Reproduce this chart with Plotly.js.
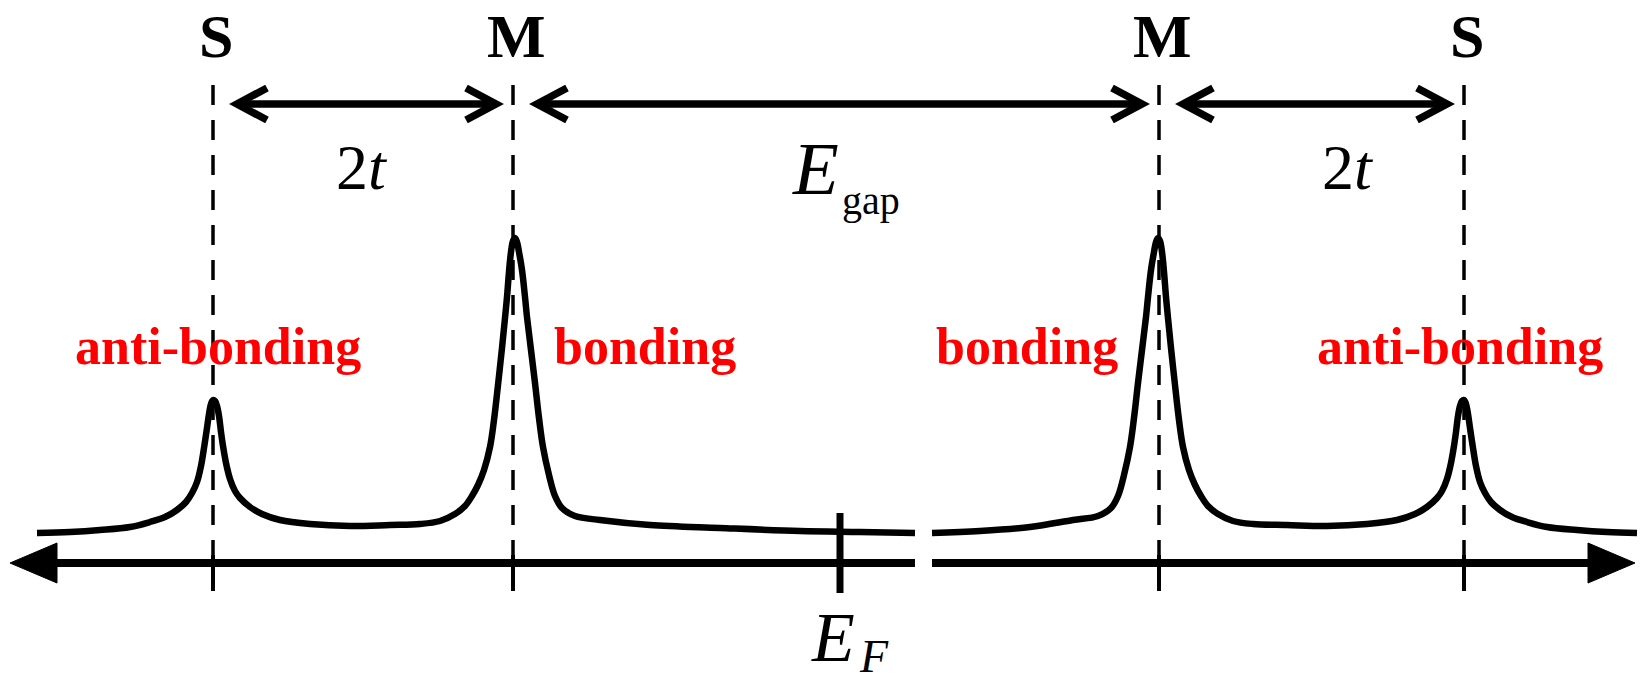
<!DOCTYPE html>
<html>
<head>
<meta charset="utf-8">
<script src="https://cdn.plot.ly/plotly-3.0.1.min.js"></script>
<style>
  html, body { margin: 0; padding: 0; background: #ffffff; }
  #chart { width: 1643px; height: 683px; }
</style>
</head>
<body>
<div id="chart"></div>
<script>
// Density of states of a two-site (S–M) system: bonding / anti-bonding peaks
// on either side of the Fermi level. Energy runs along x, intensity along y.

// Level positions along the energy axis
const levelNames  = ['S', 'M', 'M', 'S'];
const levelEnergy = [213, 513, 1159, 1464];
const fermiEnergy = 840;

// Band labels under the peaks
const bandNames  = ['anti-bonding', 'bonding', 'bonding', 'anti-bonding'];
const bandLabelE = [218, 645, 1027, 1460];

// Spacing labels between the levels
const splitLabelE = [362, 1348];
const gapLabelE   = 815;

// Energy axis extent and the break in it
const axisStart = 10;
const axisEnd   = 1635;
const axisBreak = [915, 932];

// DOS curve, below the break
const dosLowE = [37, 70, 100, 130, 150, 165, 177, 186, 192, 197, 201, 204, 207, 209, 211, 213,
  215, 217, 219, 221, 223, 226, 230, 235, 240, 250, 262, 280, 310, 350, 390, 420, 440, 455, 465,
  472, 478, 484, 490, 494, 498, 502, 505, 507, 509, 511, 513, 515, 517, 519, 522, 525, 527, 531,
  535, 539, 543, 549, 555, 562, 575, 600, 650, 720, 800, 860, 915];
const dosLowI = [30, 31, 33, 36, 41, 46, 53, 61, 70, 81, 97, 115, 135, 149, 159, 163,
  162, 157, 147, 131, 117, 100, 84, 72, 65, 56, 49, 43, 39, 37, 38, 39, 42, 49, 57,
  67, 78, 93, 116, 143, 178, 215, 245, 266, 291, 311, 322, 325, 321, 311, 293, 266, 246, 213,
  180, 145, 116, 88, 67, 55, 47, 43, 38, 35, 32, 31, 30];

// DOS curve, above the break
const dosHighE = [932, 980, 1030, 1073, 1098, 1111, 1118, 1124, 1130, 1134, 1138, 1142,
  1146, 1148, 1151, 1154, 1156, 1158, 1160, 1162, 1164, 1166, 1168, 1171, 1175, 1179, 1183,
  1189, 1195, 1201, 1208, 1218, 1233, 1253, 1287, 1327, 1367, 1397, 1415, 1427, 1437, 1442,
  1447, 1451, 1454, 1456, 1458, 1460, 1462, 1464, 1466, 1468, 1470, 1473, 1476, 1480, 1485,
  1491, 1500, 1512, 1527, 1547, 1577, 1607, 1637];
const dosHighI = [30, 32, 36, 43, 47, 55, 67, 88, 116, 145, 180, 213,
  246, 266, 293, 311, 321, 325, 322, 311, 291, 266, 245, 215, 178, 143, 116,
  93, 78, 67, 57, 49, 42, 39, 38, 37, 39, 43, 49, 56, 65, 72,
  84, 100, 117, 131, 147, 157, 162, 163, 159, 149, 135, 115, 97, 81, 70,
  61, 53, 46, 41, 36, 33, 31, 30];

// Drawing styles
const INK = '#000000';
const RED = '#ff0000';
const SERIF = 'Liberation Serif, Times New Roman, serif';
const arrowY = 459;        // height of the spacing arrows
const dashTop = 478;       // top of the level guides
const tickLow = -28;       // bottom of the level ticks
const padFrom = 24, padTo = 17;   // gap between arrow tips and their guides
const chevronLen = 30, chevronHalf = 16;
const arrowWidth = 7.5;

const traces = [
  { x: dosLowE, y: dosLowI, mode: 'lines', hoverinfo: 'skip',
    line: { color: INK, width: 6.5, shape: 'spline', smoothing: 1 } },
  { x: dosHighE, y: dosHighI, mode: 'lines', hoverinfo: 'skip',
    line: { color: INK, width: 6.5, shape: 'spline', smoothing: 1 } }
];

const shapes = [];

// Energy axis in two pieces around the break
shapes.push({ type: 'line', xref: 'x', yref: 'y', x0: axisStart + 10, x1: axisBreak[0], y0: 0, y1: 0,
  line: { color: INK, width: 8 } });
shapes.push({ type: 'line', xref: 'x', yref: 'y', x0: axisBreak[1], x1: axisEnd - 10, y0: 0, y1: 0,
  line: { color: INK, width: 8 } });

// Filled arrowheads at both ends of the axis
shapes.push({ type: 'path', xref: 'x', yref: 'y',
  path: `M ${axisStart},0 L ${axisStart + 47},20 L ${axisStart + 47},-20 Z`,
  fillcolor: INK, line: { color: INK, width: 1 } });
shapes.push({ type: 'path', xref: 'x', yref: 'y',
  path: `M ${axisEnd},0 L ${axisEnd - 47},20 L ${axisEnd - 47},-20 Z`,
  fillcolor: INK, line: { color: INK, width: 1 } });

// Dashed guides and ticks at every level
levelEnergy.forEach(e => {
  shapes.push({ type: 'line', xref: 'x', yref: 'y', x0: e, x1: e, y0: dashTop, y1: 6,
    line: { color: INK, width: 3.5, dash: '20px,15px' } });
  shapes.push({ type: 'line', xref: 'x', yref: 'y', x0: e, x1: e, y0: 8, y1: tickLow,
    line: { color: INK, width: 4 } });
});

// Fermi level tick
shapes.push({ type: 'line', xref: 'x', yref: 'y', x0: fermiEnergy, x1: fermiEnergy, y0: 50, y1: -30,
  line: { color: INK, width: 7 } });

// Double-headed spacing arrows between neighbouring levels
function doubleArrow(a, b) {
  const l = a + padFrom, r = b - padTo;
  shapes.push({ type: 'line', xref: 'x', yref: 'y', x0: l + 3, x1: r - 3, y0: arrowY, y1: arrowY,
    line: { color: INK, width: arrowWidth } });
  shapes.push({ type: 'path', xref: 'x', yref: 'y',
    path: `M ${l + chevronLen},${arrowY + chevronHalf} L ${l},${arrowY} L ${l + chevronLen},${arrowY - chevronHalf}`,
    line: { color: INK, width: arrowWidth } });
  shapes.push({ type: 'path', xref: 'x', yref: 'y',
    path: `M ${r - chevronLen},${arrowY + chevronHalf} L ${r},${arrowY} L ${r - chevronLen},${arrowY - chevronHalf}`,
    line: { color: INK, width: arrowWidth } });
}
for (let i = 0; i < levelEnergy.length - 1; i++) doubleArrow(levelEnergy[i], levelEnergy[i + 1]);

const annotations = [];
function label(x, y, text, size, color, opts) {
  const o = opts || {};
  annotations.push({ x, y, xref: 'x', yref: 'y', text, showarrow: false,
    xanchor: 'center', yanchor: o.yanchor || 'middle',
    font: { family: SERIF, size, color, weight: o.weight || 'normal' } });
}

// Level names along the top
levelNames.forEach((n, i) => label(levelEnergy[i] + 3, 563, n, 62, INK, { yanchor: 'top', weight: 'bold' }));

// Band labels
bandNames.forEach((n, i) => label(bandLabelE[i], 217, n, 52, RED, { weight: 'bold' }));

// 2t labels
splitLabelE.forEach(x => label(x, 396, '2<i>t</i>', 64, INK));

// E_gap label
label(gapLabelE, 395, '<i>E</i>', 75, INK);
label(gapLabelE + 56, 363, 'gap', 40, INK);

// E_F label
label(fermiEnergy - 7, -74, '<i>E</i>', 70, INK);
label(fermiEnergy + 34, -93, '<i>F</i>', 46, INK);

const layout = {
  width: 1643, height: 683,
  margin: { l: 0, r: 0, t: 0, b: 0, pad: 0 },
  paper_bgcolor: '#ffffff', plot_bgcolor: '#ffffff',
  showlegend: false,
  xaxis: { range: [0, 1643], visible: false, fixedrange: true },
  yaxis: { range: [-120, 563], visible: false, fixedrange: true },
  shapes, annotations
};

Plotly.newPlot('chart', traces, layout, { staticPlot: true, displayModeBar: false });
</script>
</body>
</html>
